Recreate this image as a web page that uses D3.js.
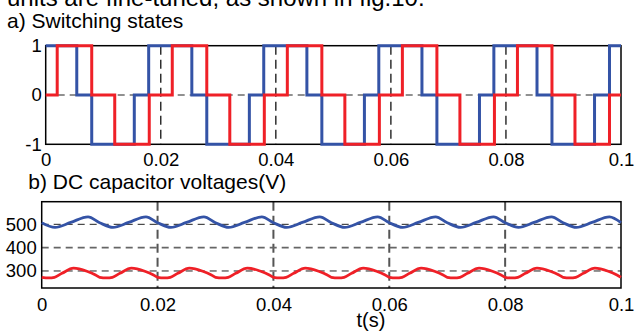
<!DOCTYPE html>
<html>
<head>
<meta charset="utf-8">
<script src="https://cdn.jsdelivr.net/npm/d3@7"></script>
<style>
body { margin:0; background:#fff; }
svg { display:block; font-family:"Liberation Sans", Arial, sans-serif; }
</style>
</head>
<body>
<svg width="637" height="331"></svg>
<script>
var timeTicks = [0, 0.02, 0.04, 0.06, 0.08, 0.1];
var timeLabels = ["0", "0.02", "0.04", "0.06", "0.08", "0.1"];
var stateTicks = [-1, 0, 1];
var stateLabels = ["-1", "0", "1"];
var voltTicks = [300, 400, 500];

// switching states: [time, new level]
var blueState = [
  [0, 1], [0.0054, 0], [0.0080, -1], [0.0154, 0], [0.0179, 1],
  [0.0254, 0], [0.0280, -1], [0.0354, 0], [0.0379, 1],
  [0.0454, 0], [0.0480, -1], [0.0554, 0], [0.0579, 1],
  [0.0654, 0], [0.0680, -1], [0.0754, 0], [0.0779, 1],
  [0.0854, 0], [0.0880, -1], [0.0954, 0], [0.0980, 1], [0.1, 1]
];
var redState = [
  [0, 0], [0.002, 1], [0.008, 0], [0.012, -1], [0.018, 0],
  [0.022, 1], [0.028, 0], [0.032, -1], [0.038, 0],
  [0.042, 1], [0.048, 0], [0.052, -1], [0.058, 0],
  [0.062, 1], [0.068, 0], [0.072, -1], [0.078, 0],
  [0.082, 1], [0.088, 0], [0.092, -1], [0.098, 0], [0.1, 0]
];

// DC capacitor voltages: [time, volts]
var blueVolt = [
  [0.000, 507], [0.0023, 487], [0.0050, 508], [0.0080, 532],
  [0.010, 507], [0.0123, 487], [0.0150, 508], [0.0180, 532],
  [0.020, 507], [0.0223, 487], [0.0250, 508], [0.0280, 532],
  [0.030, 507], [0.0323, 487], [0.0350, 508], [0.0380, 532],
  [0.040, 507], [0.0423, 487], [0.0450, 508], [0.0480, 532],
  [0.050, 507], [0.0523, 487], [0.0550, 508], [0.0580, 532],
  [0.060, 507], [0.0623, 487], [0.0650, 508], [0.0680, 532],
  [0.070, 507], [0.0723, 487], [0.0750, 508], [0.0780, 532],
  [0.080, 507], [0.0823, 487], [0.0850, 508], [0.0880, 532],
  [0.090, 507], [0.0923, 487], [0.0950, 508], [0.0980, 532],
  [0.100, 507]
];
var redVolt = [
  [0.000, 273], [0.0012, 270], [0.0022, 273], [0.0035, 290], [0.0055, 312], [0.0078, 299], [0.0093, 283],
  [0.010, 273], [0.0112, 270], [0.0122, 273], [0.0135, 290], [0.0155, 312], [0.0178, 299], [0.0193, 283],
  [0.020, 273], [0.0212, 270], [0.0222, 273], [0.0235, 290], [0.0255, 312], [0.0278, 299], [0.0293, 283],
  [0.030, 273], [0.0312, 270], [0.0322, 273], [0.0335, 290], [0.0355, 312], [0.0378, 299], [0.0393, 283],
  [0.040, 273], [0.0412, 270], [0.0422, 273], [0.0435, 290], [0.0455, 312], [0.0478, 299], [0.0493, 283],
  [0.050, 273], [0.0512, 270], [0.0522, 273], [0.0535, 290], [0.0555, 312], [0.0578, 299], [0.0593, 283],
  [0.060, 273], [0.0612, 270], [0.0622, 273], [0.0635, 290], [0.0655, 312], [0.0678, 299], [0.0693, 283],
  [0.070, 273], [0.0712, 270], [0.0722, 273], [0.0735, 290], [0.0755, 312], [0.0778, 299], [0.0793, 283],
  [0.080, 273], [0.0812, 270], [0.0822, 273], [0.0835, 290], [0.0855, 312], [0.0878, 299], [0.0893, 283],
  [0.090, 273], [0.0912, 270], [0.0922, 273], [0.0935, 290], [0.0955, 312], [0.0978, 299], [0.0993, 283],
  [0.100, 273]
];

var blue = "#3453a6", red = "#ef2027";
var svg = d3.select("svg");

var topBox = {left: 45.7, right: 621, top: 45.7, bottom: 144.3};
var botBox = {left: 41.7, right: 621, top: 201.7, bottom: 288};

var x1 = d3.scaleLinear().domain([0, 0.1]).range([topBox.left, topBox.right]);
var y1 = d3.scaleLinear().domain([-1, 1]).range([topBox.bottom, topBox.top]);
var x2 = d3.scaleLinear().domain([0, 0.1]).range([botBox.left, botBox.right]);
var y2 = d3.scaleLinear().domain([227, 597]).range([botBox.bottom, botBox.top]);

svg.append("rect").attr("width", 637).attr("height", 331).attr("fill", "#fff");

// texts
svg.append("text").attr("x", 7).attr("y", 6).attr("font-size", 24).text("units are fine-tuned, as shown in fig.10.");
svg.append("text").attr("x", 7).attr("y", 27.5).attr("font-size", 21).text("a) Switching states");
svg.append("text").attr("x", 28.3).attr("y", 188.5).attr("font-size", 21).text("b) DC capacitor voltages(V)");
svg.append("text").attr("x", 371).attr("y", 327).attr("font-size", 20).attr("text-anchor", "middle").text("t(s)");

// ---- top plot ----
var g1 = svg.append("g");
g1.selectAll(".vgrid")
  .data(timeTicks.slice(1, 5))
  .enter().append("line")
  .attr("x1", function(d){ return x1(d); }).attr("x2", function(d){ return x1(d); })
  .attr("y1", topBox.top).attr("y2", topBox.bottom)
  .style("stroke", "#222").style("stroke-width", 1.4).style("stroke-dasharray", "9,5");
g1.append("line")
  .attr("x1", topBox.left).attr("x2", topBox.right)
  .attr("y1", y1(0)).attr("y2", y1(0))
  .style("stroke", "#222").style("stroke-width", 1).style("stroke-dasharray", "7,5");

g1.append("rect")
  .attr("x", topBox.left).attr("y", topBox.top)
  .attr("width", topBox.right - topBox.left).attr("height", topBox.bottom - topBox.top)
  .style("fill", "none").style("stroke", "#000").style("stroke-width", 1.5);

var stepLine = d3.line().curve(d3.curveStepAfter)
  .x(function(d){ return x1(d[0]); })
  .y(function(d){ return y1(d[1]); });

g1.append("path").datum(blueState).attr("d", stepLine)
  .style("fill", "none").style("stroke", blue).style("stroke-width", 3);
g1.append("path").datum(redState).attr("d", stepLine)
  .style("fill", "none").style("stroke", red).style("stroke-width", 3);

var ax1 = g1.append("g").attr("transform", "translate(0," + topBox.bottom + ")")
  .call(d3.axisBottom(x1).tickValues(timeTicks).tickSize(0).tickPadding(9)
    .tickFormat(function(d, i){ return timeLabels[i]; }));
var ay1 = g1.append("g").attr("transform", "translate(" + topBox.left + ",0)")
  .call(d3.axisLeft(y1).tickValues(stateTicks).tickSize(0).tickPadding(4)
    .tickFormat(function(d, i){ return stateLabels[i]; }));

// ---- bottom plot ----
var g2 = svg.append("g");
g2.selectAll(".vgrid")
  .data(timeTicks.slice(1, 5))
  .enter().append("line")
  .attr("x1", function(d){ return x2(d); }).attr("x2", function(d){ return x2(d); })
  .attr("y1", botBox.top).attr("y2", botBox.bottom)
  .style("stroke", "#555").style("stroke-width", 2).style("stroke-dasharray", "9,5");
g2.selectAll(".hgrid")
  .data(voltTicks)
  .enter().append("line")
  .attr("x1", botBox.left).attr("x2", botBox.right)
  .attr("y1", function(d){ return y2(d); }).attr("y2", function(d){ return y2(d); })
  .style("stroke", function(d){ return d == 400 ? "#666" : "#222"; })
  .style("stroke-width", function(d){ return d == 400 ? 1.6 : 1; })
  .style("stroke-dasharray", "7,5");

g2.append("rect")
  .attr("x", botBox.left).attr("y", botBox.top)
  .attr("width", botBox.right - botBox.left).attr("height", botBox.bottom - botBox.top)
  .style("fill", "none").style("stroke", "#000").style("stroke-width", 1.5);

var voltLine = d3.line().curve(d3.curveMonotoneX)
  .x(function(d){ return x2(d[0]); })
  .y(function(d){ return y2(d[1]); });

g2.append("path").datum(blueVolt).attr("d", voltLine)
  .style("fill", "none").style("stroke", blue).style("stroke-width", 2.8);
g2.append("path").datum(redVolt).attr("d", voltLine)
  .style("fill", "none").style("stroke", red).style("stroke-width", 2.8);

var ax2 = g2.append("g").attr("transform", "translate(0," + botBox.bottom + ")")
  .call(d3.axisBottom(x2).tickValues(timeTicks).tickSize(0).tickPadding(10.3)
    .tickFormat(function(d, i){ return timeLabels[i]; }));
var ay2 = g2.append("g").attr("transform", "translate(" + botBox.left + ",0)")
  .call(d3.axisLeft(y2).tickValues(voltTicks).tickSize(0).tickPadding(5)
    .tickFormat(function(d){ return String(d); }));

[ax1, ay1, ax2, ay2].forEach(function(a){
  a.attr("font-size", 18.5).attr("font-family", null);
  a.select(".domain").remove();
  a.selectAll("text").attr("fill", "#000");
});
</script>
</body>
</html>
